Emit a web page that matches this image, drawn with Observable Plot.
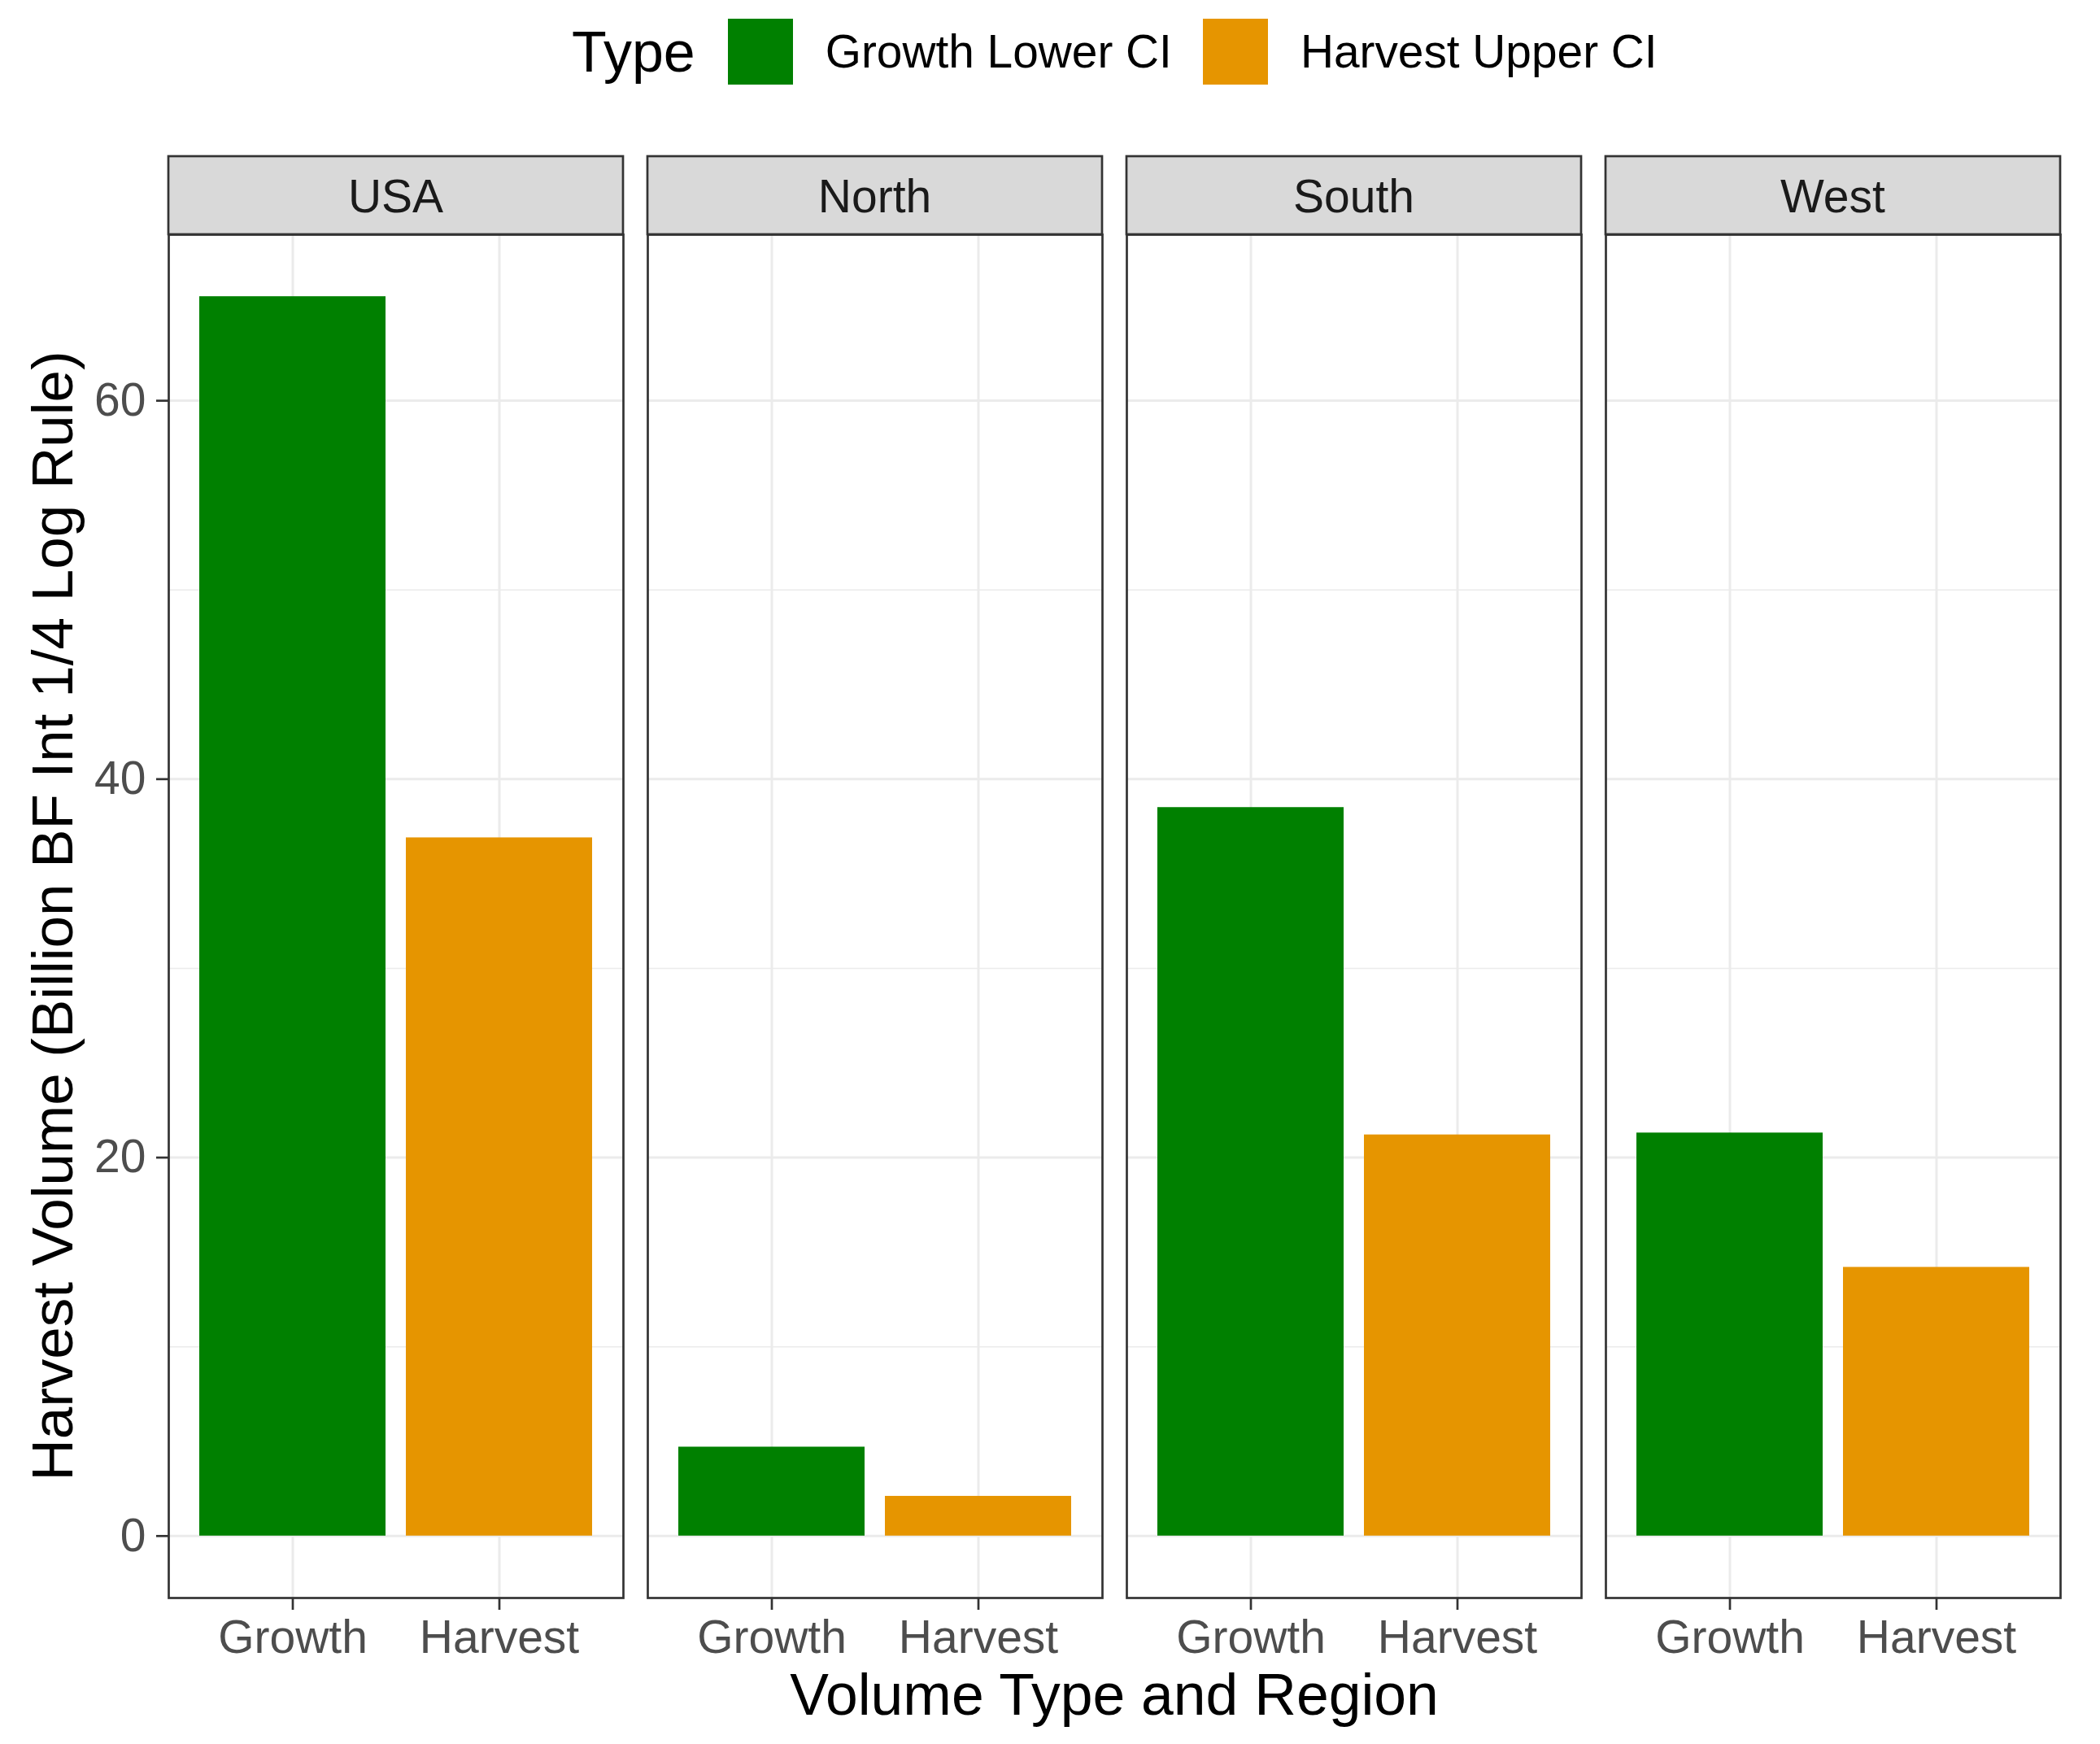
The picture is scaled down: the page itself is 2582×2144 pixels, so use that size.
<!DOCTYPE html>
<html><head><meta charset="utf-8">
<script src="https://cdn.jsdelivr.net/npm/d3@7"></script>
<script src="https://cdn.jsdelivr.net/npm/@observablehq/plot@0.6"></script>
<style>
body{margin:0;background:#fff;font-family:"Liberation Sans",Arial,Helvetica,sans-serif;}
#legend{height:150px;position:relative;}
#legend .row{display:flex;align-items:center;height:127px;padding-left:703px;}
#legend .title{font-size:70px;color:#000;margin-right:40px;}
#legend .key{width:80px;height:81px;margin-right:40px;}
#legend .lab{font-size:56.8px;color:#000;margin-right:38px;}
#chart svg{display:block;}
</style></head><body>
<div id="legend"></div>
<div id="chart"></div>
<script>
// ---- data ----
const regions = ["USA", "North", "South", "West"];
const volumeTypes = ["Growth", "Harvest"];
const growthValues = [65.5, 4.7, 38.5, 21.3];
const harvestValues = [36.9, 2.1, 21.2, 14.2];
const legendTitle = "Type";
const legendLabels = ["Growth Lower CI", "Harvest Upper CI"];
const legendColors = ["#008000", "#E69500"];
const yTicks = [0, 20, 40, 60];
const yMinorTicks = [10, 30, 50];
const yTitle = "Harvest Volume (Billion BF Int 1/4 Log Rule)";
const xTitle = "Volume Type and Region";

const rows = [];
regions.forEach((r, i) => {
  rows.push({region: r, type: volumeTypes[0], value: growthValues[i], ci: legendLabels[0]});
  rows.push({region: r, type: volumeTypes[1], value: harvestValues[i], ci: legendLabels[1]});
});

// ---- legend ----
const leg = d3.select("#legend").append("div").attr("class", "row");
leg.append("div").attr("class", "title").text(legendTitle);
legendLabels.forEach((l, i) => {
  leg.append("div").attr("class", "key").style("background", legendColors[i]);
  leg.append("div").attr("class", "lab").text(l);
});

// ---- plot ----
const W = 2582, H = 1994;
const FONT = '"Liberation Sans", Arial, Helvetica, sans-serif';
const allMax = d3.max(growthValues.concat(harvestValues));
const ex = allMax * 0.05;

const plot = Plot.plot({
  width: W, height: H,
  marginLeft: 206, marginRight: 48, marginTop: 138, marginBottom: 180,
  style: {fontFamily: FONT, background: "white", overflow: "visible"},
  fx: {domain: regions, paddingInner: 0.0504, paddingOuter: 0, axis: null},
  x: {domain: volumeTypes, paddingInner: 0.1, paddingOuter: 0.15, align: 0.5},
  y: {domain: [-ex, allMax + ex]},
  color: {domain: legendLabels, range: legendColors},
  marks: [
    Plot.gridY(yMinorTicks, {stroke: "#ebebeb", strokeOpacity: 1, strokeWidth: 1.5}),
    Plot.gridY(yTicks, {stroke: "#ebebeb", strokeOpacity: 1, strokeWidth: 3}),
    Plot.gridX({stroke: "#ebebeb", strokeOpacity: 1, strokeWidth: 3}),
    Plot.barY(rows, {fx: "region", x: "type", y: "value", fill: "ci"}),
    Plot.frame({stroke: "#333333", strokeWidth: 2.7}),
    Plot.axisY(yTicks, {anchor: "left", label: null, tickSize: 15, tickPadding: 13,
      fontSize: 57, stroke: "#333333", strokeWidth: 2.7, fill: "#4d4d4d"}),
    Plot.axisX({anchor: "bottom", label: null, tickSize: 15, tickPadding: 12,
      fontSize: 57, stroke: "#333333", strokeWidth: 2.7, fill: "#4d4d4d"})
  ]
});
document.getElementById("chart").appendChild(plot);

// ---- strips and titles ----
const svg = d3.select(plot);
const fx = plot.scale("fx");
const ys = plot.scale("y");
const yTop = Math.min(...ys.range), yBot = Math.max(...ys.range);
const stripH = 96;
const g = svg.append("g").attr("class", "strips");
regions.forEach(r => {
  const x0 = fx.apply(r);
  g.append("rect").attr("x", x0).attr("y", yTop - stripH).attr("width", fx.bandwidth).attr("height", stripH)
    .attr("fill", "#d9d9d9").attr("stroke", "#333333").attr("stroke-width", 2.7);
  g.append("text").attr("x", x0 + fx.bandwidth / 2).attr("y", yTop - stripH / 2).attr("dy", "0.36em")
    .attr("text-anchor", "middle").attr("font-size", 57).attr("fill", "#1a1a1a").text(r);
});
const xLeft = fx.apply(regions[0]);
const xRight = fx.apply(regions[regions.length - 1]) + fx.bandwidth;
svg.append("text").attr("transform", `translate(89,${(yTop + yBot) / 2}) rotate(-90)`)
  .attr("text-anchor", "middle").attr("font-size", 71).attr("fill", "#000").text(yTitle);
svg.append("text").attr("x", (xLeft + xRight) / 2).attr("y", yBot + 144)
  .attr("text-anchor", "middle").attr("font-size", 71.5).attr("fill", "#000").text(xTitle);
</script>
</body></html>
